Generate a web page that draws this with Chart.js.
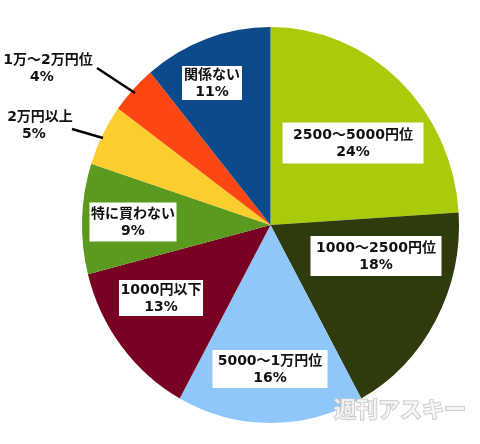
<!DOCTYPE html>
<html>
<head>
<meta charset="utf-8">
<script src="https://cdn.jsdelivr.net/npm/chart.js@4/dist/chart.umd.min.js"></script>
<style>
  html, body { margin: 0; padding: 0; background: #fff; }
  canvas { display: block; }
</style>
</head>
<body>
<canvas id="pieChart" width="480" height="444"></canvas>
<script>
// Data (clockwise from 12 o'clock)
const categories = ['2500～5000円位', '1000～2500円位', '5000～1万円位', '1000円以下', '特に買わない', '2万円以上', '1万～2万円位', '関係ない'];
const shares = [24, 18, 16, 13, 9, 5, 4, 11];
const sliceColors = ['#aacb0a', '#2e3b0c', '#8fc7fb', '#780022', '#5a9a1f', '#fccd2e', '#fd4712', '#0d4a8b'];

// Where each label sits (box labels inside, or outside with a leader line)
const labelLayout = [
    { x: 353, y: 143, w: 141, h: 41, box: true },
    { x: 376, y: 256, w: 131, h: 40, box: true },
    { x: 270, y: 369, w: 115, h: 38, box: true },
    { x: 161, y: 298, w: 84, h: 36, box: true },
    { x: 133, y: 222, w: 87, h: 39, box: true },
    { x: 40, y: 125, box: false, line: [72, 129, 103, 138] },
    { x: 48, y: 68, box: false, line: [97, 68, 135, 93] },
    { x: 212, y: 83, w: 60, h: 34, box: true }
];

const labelFont = "bold 14px 'DejaVu Sans', 'Noto Sans CJK JP', sans-serif";
const squeezeX = 0.952;  // the source pie is slightly narrower than tall

// Plugin: squeeze the pie, then draw the white label boxes, leader lines and watermark
const labelPlugin = {
    id: 'sliceLabels',
    beforeDatasetsDraw(chart) {
        const ctx = chart.ctx;
        const cx = (chart.chartArea.left + chart.chartArea.right) / 2;
        ctx.save();
        ctx.translate(cx, 0);
        ctx.scale(squeezeX, 1);
        ctx.translate(-cx, 0);
    },
    afterDatasetsDraw(chart) {
        const ctx = chart.ctx;
        ctx.restore();
        ctx.save();
        ctx.font = labelFont;
        ctx.textAlign = 'center';
        ctx.textBaseline = 'middle';

        labelLayout.forEach((lay, i) => {
            const lines = [categories[i], shares[i] + '%'];
            if (lay.box) {
                ctx.fillStyle = '#ffffff';
                ctx.fillRect(lay.x - lay.w / 2, lay.y - lay.h / 2, lay.w, lay.h);
            }
            if (lay.line) {
                ctx.strokeStyle = '#000000';
                ctx.lineWidth = 2.5;
                ctx.beginPath();
                ctx.moveTo(lay.line[0], lay.line[1]);
                ctx.lineTo(lay.line[2], lay.line[3]);
                ctx.stroke();
            }
            ctx.fillStyle = '#111111';
            ctx.fillText(lines[0], lay.x, lay.y - 8);
            ctx.fillText(lines[1], lay.x - (lay.box ? 0 : 6), lay.y + 9);
        });

        // Watermark
        ctx.font = "bold 22px 'Noto Sans CJK JP', sans-serif";
        ctx.fillStyle = 'rgba(245,245,245,0.9)';
        ctx.strokeStyle = '#c4c4c4';
        ctx.lineWidth = 1.5;
        ctx.strokeText('週刊アスキー', 400, 409);
        ctx.fillText('週刊アスキー', 400, 409);
        ctx.restore();
    }
};

const ctx = document.getElementById('pieChart').getContext('2d');
const pieChart = new Chart(ctx, {
    type: 'pie',
    data: {
        labels: categories,
        datasets: [{
            data: shares,
            backgroundColor: sliceColors,
            borderWidth: 0
        }]
    },
    options: {
        responsive: false,
        animation: false,
        layout: {
            padding: { top: 27, bottom: 21, left: 72, right: 11 }
        },
        plugins: {
            legend: { display: false },
            tooltip: { enabled: false }
        }
    },
    plugins: [labelPlugin]
});
</script>
</body>
</html>
